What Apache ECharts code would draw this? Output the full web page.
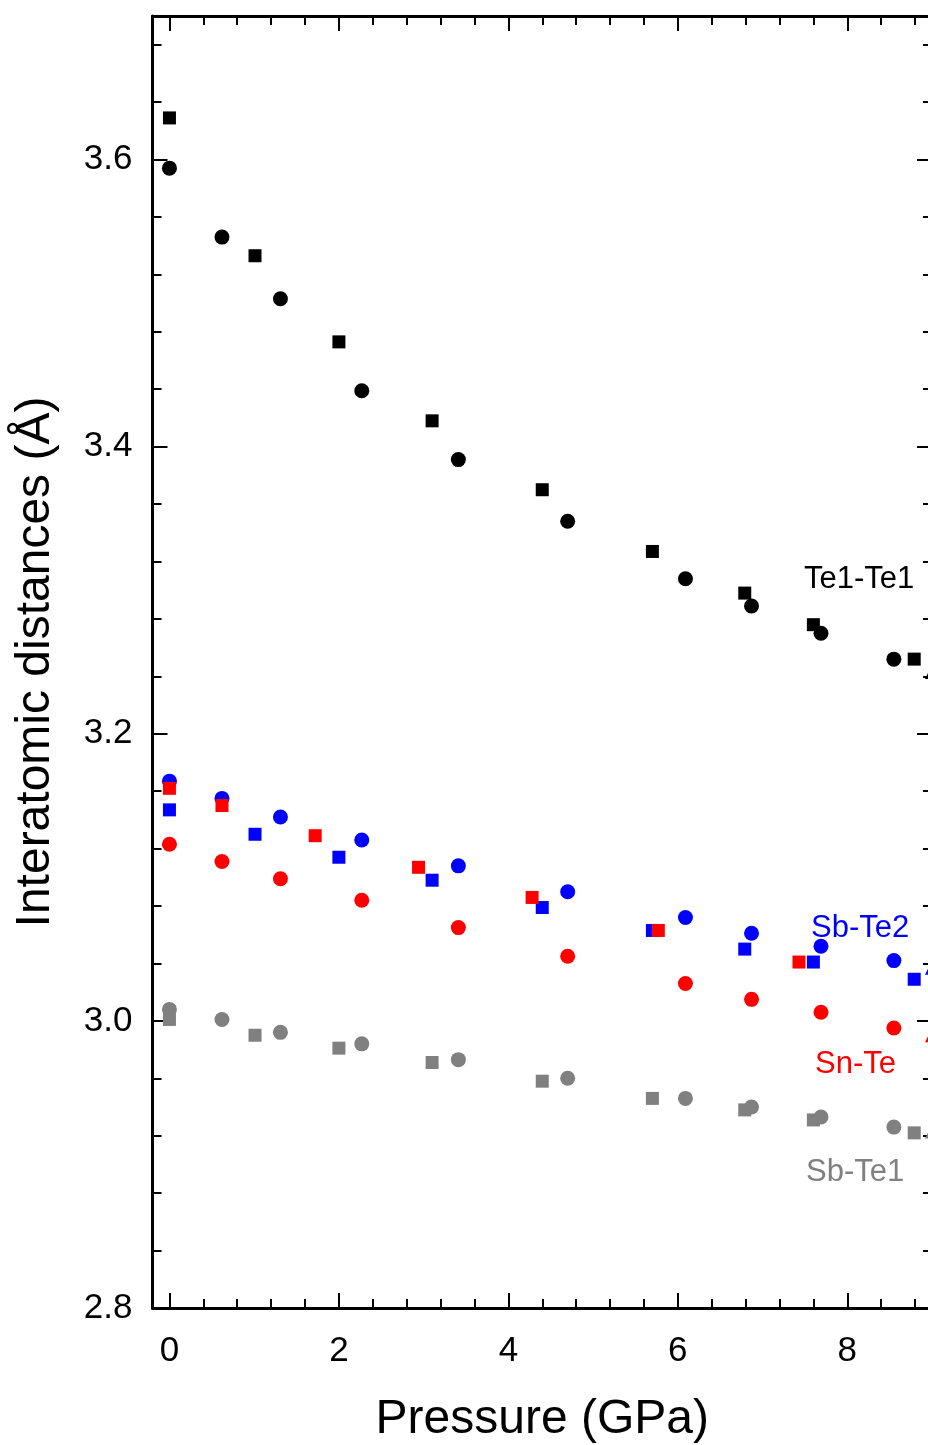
<!DOCTYPE html>
<html>
<head>
<meta charset="utf-8">
<script src="https://cdn.jsdelivr.net/npm/echarts@6/dist/echarts.min.js"></script>
<style>
html,body{margin:0;padding:0;background:#fff;}
#chart{width:928px;height:1445px;}
</style>
</head>
<body>
<div id="chart"></div>
<script>
// ---- data ----
// Pressure (GPa) for square-marker datasets
const pSquare = [0, 1.01, 2.0, 3.10, 4.40, 5.70, 6.79, 7.60, 8.79];
// Pressure (GPa) for circle-marker datasets
const pCircle = [0, 0.62, 1.31, 2.27, 3.41, 4.70, 6.09, 6.87, 7.69, 8.55];
// Pressure (GPa) for red square (Sn-Te) dataset
const pSnTeSquare = [0, 0.62, 1.72, 2.94, 4.28, 5.77, 7.43];
// Pressure for partially visible triangle points at right edge
const pTriangle = [9.0];

const te1te1Square = [3.629, 3.533, 3.473, 3.418, 3.370, 3.327, 3.298, 3.276, 3.252];
const te1te1Circle = [3.594, 3.546, 3.503, 3.439, 3.391, 3.348, 3.308, 3.289, 3.270, 3.252];
const sbte2Square  = [3.147, 3.130, 3.114, 3.098, 3.079, 3.063, 3.050, 3.041, 3.029];
const sbte2Circle  = [3.167, 3.155, 3.142, 3.126, 3.108, 3.090, 3.072, 3.061, 3.052, 3.042];
const snteSquare   = [3.162, 3.150, 3.129, 3.107, 3.086, 3.063, 3.041];
const snteCircle   = [3.123, 3.111, 3.099, 3.084, 3.065, 3.045, 3.026, 3.015, 3.006, 2.995];
const sbte1Square  = [3.001, 2.990, 2.981, 2.971, 2.958, 2.946, 2.938, 2.931, 2.922];
const sbte1Circle  = [3.008, 3.001, 2.992, 2.984, 2.973, 2.960, 2.946, 2.940, 2.933, 2.926];
const te1te1Tri = [3.243];
const sbte2Tri  = [3.037];
const snteTri   = [2.990];
const sbte1Tri  = [2.923];

// ticks
const xMajorTicks = [0, 2, 4, 6, 8];
const xMinorTicks = [0.4, 0.8, 1.2, 1.6, 2.4, 2.8, 3.2, 3.6, 4.4, 4.8, 5.2, 5.6, 6.4, 6.8, 7.2, 7.6, 8.4, 8.8];
const yMajorTicks = [2.8, 3.0, 3.2, 3.4, 3.6];
const yMinorTicks = [2.84, 2.88, 2.92, 2.96, 3.04, 3.08, 3.12, 3.16, 3.24, 3.28, 3.32, 3.36, 3.44, 3.48, 3.52, 3.56, 3.64, 3.68];

const seriesLabels = ['Te1-Te1', 'Sb-Te2', 'Sn-Te', 'Sb-Te1'];
const xTitle = 'Pressure (GPa)';
const yTitle = 'Interatomic distances (Å)';

// ---- chart ----
const FONT = 'Liberation Sans, Arial, Helvetica, sans-serif';
const C = { black: '#000000', blue: '#0000ff', red: '#ff0000', gray: '#808080' };
const X_MIN = -0.2, X_MAX = 9.0, Y_MIN = 2.8, Y_MAX = 3.7;

function pts(xs, ys) { return xs.map((x, i) => [x, ys[i]]); }

function axisDef(pos, min, max, ticks, len, major) {
  return {
    type: 'value', position: pos, min, max,
    axisLine: { show: major, onZero: false, lineStyle: { color: '#000', width: 3 } },
    axisTick: { show: true, inside: true, length: len, customValues: ticks, lineStyle: { color: '#000', width: 2 } },
    axisLabel: { show: false },
    splitLine: { show: false }
  };
}

const xAxes = [
  axisDef('bottom', X_MIN, X_MAX, xMajorTicks, 15, true),
  axisDef('bottom', X_MIN, X_MAX, xMinorTicks, 9, false),
  axisDef('top', X_MIN, X_MAX, xMajorTicks, 15, true),
  axisDef('top', X_MIN, X_MAX, xMinorTicks, 9, false)
];
xAxes[0].axisLabel = { show: true, customValues: xMajorTicks, margin: 26, fontSize: 35, fontFamily: FONT, color: '#000' };
xAxes[0].name = xTitle;
xAxes[0].nameLocation = 'middle';
xAxes[0].nameGap = 88;
xAxes[0].nameTextStyle = { fontSize: 48, fontFamily: FONT, color: '#000' };

const yAxes = [
  axisDef('left', Y_MIN, Y_MAX, yMajorTicks, 15, true),
  axisDef('left', Y_MIN, Y_MAX, yMinorTicks, 9, false),
  axisDef('right', Y_MIN, Y_MAX, yMajorTicks, 15, true),
  axisDef('right', Y_MIN, Y_MAX, yMinorTicks, 9, false)
];
yAxes[0].axisLabel = { show: true, customValues: yMajorTicks, margin: 20, fontSize: 35, fontFamily: FONT, color: '#000', formatter: v => v.toFixed(1) };
yAxes[0].name = yTitle;
yAxes[0].nameLocation = 'middle';
yAxes[0].nameGap = 93;
yAxes[0].nameTextStyle = { fontSize: 48, fontFamily: FONT, color: '#000' };

function sc(name, data, symbol, size, color, z) {
  return { name, type: 'scatter', data, symbol, symbolSize: size, itemStyle: { color, opacity: 1 }, z, xAxisIndex: 0, yAxisIndex: 0, silent: true, clip: false };
}

const chart = echarts.init(document.getElementById('chart'), null, { renderer: 'canvas' });
chart.setOption({
  animation: false,
  backgroundColor: '#ffffff',
  grid: { left: 152.5, top: 16, width: 779.5, height: 1292, containLabel: false, outerBoundsMode: 'none' },
  xAxis: xAxes,
  yAxis: yAxes,
  series: [
    sc('Te1-Te1 sq', pts(pSquare, te1te1Square), 'rect', 13, C.black, 2),
    sc('Te1-Te1 ci', pts(pCircle, te1te1Circle), 'circle', 15, C.black, 3),
    sc('Sb-Te1 sq', pts(pSquare, sbte1Square), 'rect', 13, C.gray, 2),
    sc('Sb-Te1 ci', pts(pCircle, sbte1Circle), 'circle', 15, C.gray, 3),
    sc('Sb-Te2 sq', pts(pSquare, sbte2Square), 'rect', 13, C.blue, 2),
    sc('Sb-Te2 ci', pts(pCircle, sbte2Circle), 'circle', 15, C.blue, 3),
    sc('Sn-Te ci', pts(pCircle, snteCircle), 'circle', 15, C.red, 3),
    sc('Sn-Te sq', pts(pSnTeSquare, snteSquare), 'rect', 13, C.red, 4),
    sc('Te1-Te1 tr', pts(pTriangle, te1te1Tri), 'triangle', 14, C.black, 2),
    sc('Sb-Te2 tr', pts(pTriangle, sbte2Tri), 'triangle', 14, C.blue, 2),
    sc('Sn-Te tr', pts(pTriangle, snteTri), 'triangle', 14, C.red, 2),
    sc('Sb-Te1 tr', pts(pTriangle, sbte1Tri), 'triangle', 14, C.gray, 2)
  ],
  graphic: [
    { type: 'text', left: 804, top: 564, style: { text: seriesLabels[0], fill: C.black, font: '31px ' + FONT } },
    { type: 'text', left: 811, top: 913, style: { text: seriesLabels[1], fill: C.blue, font: '31px ' + FONT } },
    { type: 'text', left: 815, top: 1049, style: { text: seriesLabels[2], fill: C.red, font: '31px ' + FONT } },
    { type: 'text', left: 806, top: 1157, style: { text: seriesLabels[3], fill: C.gray, font: '31px ' + FONT } }
  ]
});
</script>
</body>
</html>
